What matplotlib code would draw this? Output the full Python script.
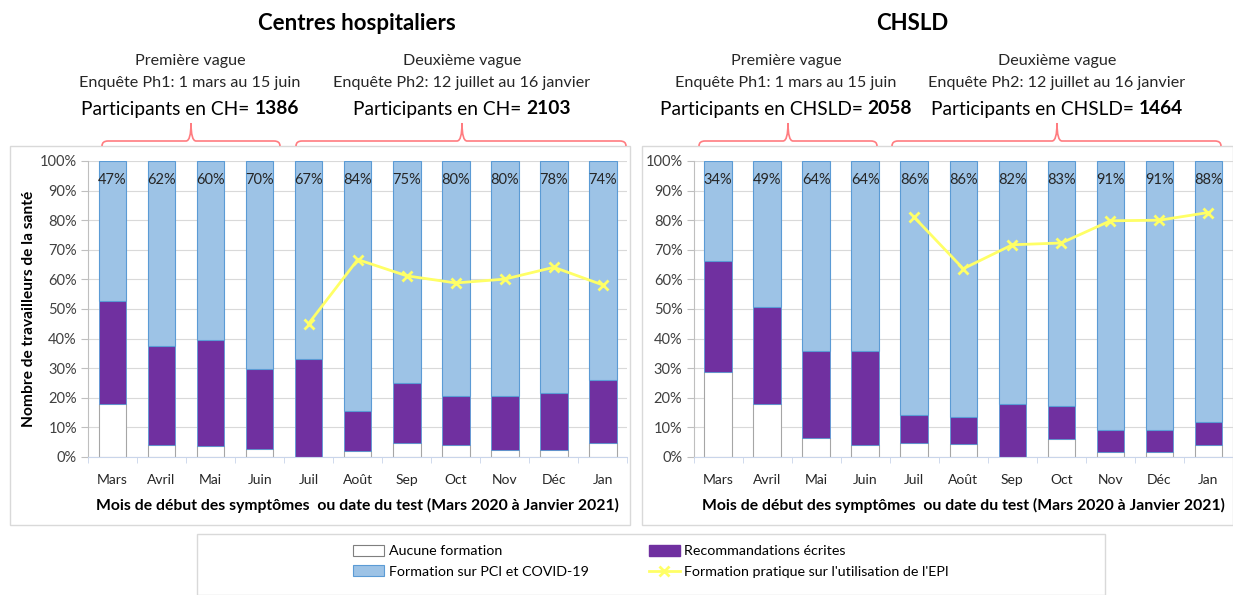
import numpy as np
import matplotlib.pyplot as plt
from matplotlib.path import Path
from matplotlib.patches import PathPatch, Rectangle, Patch
from matplotlib.lines import Line2D
from matplotlib.ticker import FixedLocator

plt.rcParams['font.family'] = ['Lato', 'DejaVu Sans']

# ---- data ----
mois = ['Mars', 'Avril', 'Mai', 'Juin', 'Juil', 'Août', 'Sep', 'Oct', 'Nov', 'Déc', 'Jan']

ch_aucune = [18.0, 4.2, 3.6, 2.6, 0.0, 2.0, 4.6, 4.2, 2.3, 2.5, 4.6]
ch_recomm = [34.8, 33.4, 35.9, 27.2, 33.2, 13.4, 20.3, 16.3, 18.2, 19.2, 21.4]
ch_pratique = [np.nan, np.nan, np.nan, np.nan, 45.1, 66.7, 61.2, 58.8, 60.1, 64.1, 58.1]
ch_labels = [47, 62, 60, 70, 67, 84, 75, 80, 80, 78, 74]

chsld_aucune = [28.6, 17.9, 6.4, 4.2, 4.6, 4.4, 0.0, 6.0, 1.8, 1.8, 3.9]
chsld_recomm = [37.5, 32.9, 29.4, 31.6, 9.6, 9.2, 18.0, 11.2, 7.4, 7.2, 7.9]
chsld_pratique = [np.nan, np.nan, np.nan, np.nan, 81.0, 63.6, 71.7, 72.3, 79.8, 80.0, 82.6]
chsld_labels = [34, 49, 64, 64, 86, 86, 82, 83, 91, 91, 88]

W, H = 1233, 595
fig = plt.figure(figsize=(W / 100, H / 100), dpi=100)
rend = fig.canvas.get_renderer()

BLUE = '#9DC3E6'
BLUE_EDGE = '#5B9BD5'
PURPLE = '#7030A0'
YELLOW = '#FFFF66'
RED = '#FF7C80'
GRAY = '#D9D9D9'


def fx(x):
    return x / W


def fy(y):
    return 1 - y / H


# panel frames
for x0, x1 in [(10, 630), (642, 1233)]:
    fig.patches.append(Rectangle((fx(x0), fy(525)), fx(x1 - x0), (525 - 146) / H,
                                 transform=fig.transFigure, fill=False,
                                 edgecolor=GRAY, lw=1))


def panel(left, aucune, recomm, pratique, labels, ylabel=None):
    ax = fig.add_axes([fx(left), fy(457), fx(539.5), 296 / H])
    x = np.arange(len(mois))
    aucune = np.array(aucune)
    recomm = np.array(recomm)
    base = aucune + recomm
    ax.bar(x, aucune, width=0.56, color='white', edgecolor='#A6A6A6', lw=0.8, zorder=2)
    ax.bar(x, recomm, width=0.56, bottom=aucune, color=PURPLE, edgecolor=BLUE_EDGE, lw=0.6, zorder=2)
    ax.bar(x, 100 - base, width=0.56, bottom=base, color=BLUE, edgecolor=BLUE_EDGE, lw=0.8, zorder=2)
    ax.plot(x, pratique, color=YELLOW, lw=2, marker='x', ms=7, mew=2, zorder=3)
    for i, v in enumerate(labels):
        ax.text(i, 93.6, f'{v}%', ha='center', va='center', fontsize=10.5, color='#262626', zorder=4)

    ax.set_xlim(-0.5, len(mois) - 0.5)
    ax.set_ylim(0, 100)
    ax.set_yticks(range(0, 101, 10))
    ax.set_yticklabels([f'{v}%' for v in range(0, 101, 10)], fontsize=10.5, color='#404040')
    ax.set_xticks(x)
    ax.set_xticklabels(mois, fontsize=10, color='#262626')
    ax.xaxis.set_minor_locator(FixedLocator(np.arange(-0.5, len(mois), 1)))
    ax.tick_params(axis='x', which='major', length=0, pad=12)
    ax.tick_params(axis='x', which='minor', length=4, color='#C9D5EA')
    ax.tick_params(axis='y', length=5, color='#BFBFBF', pad=3)
    ax.grid(axis='y', color=GRAY, lw=0.8, zorder=0)
    ax.set_axisbelow(True)
    for s in ['top', 'right']:
        ax.spines[s].set_visible(False)
    ax.spines['left'].set_color('#BFBFBF')
    ax.spines['bottom'].set_color('#C9D5EA')
    ax.set_xlabel('Mois de début des symptômes  ou date du test (Mars 2020 à Janvier 2021)',
                  fontsize=11.3, fontweight='bold', labelpad=9)
    if ylabel:
        ax.set_ylabel(ylabel, fontsize=11.2, fontweight='bold', labelpad=3)
    return ax


panel(88, ch_aucune, ch_recomm, ch_pratique, ch_labels, 'Nombre de travailleurs de la santé')
panel(693.5, chsld_aucune, chsld_recomm, chsld_pratique, chsld_labels)

# titles
fig.text(fx(357), fy(23), 'Centres hospitaliers', ha='center', va='center', fontsize=16, fontweight='bold')
fig.text(fx(912), fy(23), 'CHSLD', ha='center', va='center', fontsize=16, fontweight='bold')


def mixed(xc, y, normal, bold, size=13.8):
    t1 = fig.text(0, fy(y), normal, ha='left', va='center', fontsize=size)
    t2 = fig.text(0, fy(y), bold, ha='left', va='center', fontsize=size, fontweight='bold')
    w1 = t1.get_window_extent(rend).width
    w2 = t2.get_window_extent(rend).width
    start = xc - (w1 + w2) / 2
    t1.set_x(fx(start))
    t2.set_x(fx(start + w1))


headers = [
    (190, 'Première vague', 'Enquête Ph1: 1 mars au 15 juin', 'Participants en CH= ', '1386'),
    (462, 'Deuxième vague', 'Enquête Ph2: 12 juillet au 16 janvier', 'Participants en CH= ', '2103'),
    (786, 'Première vague', 'Enquête Ph1: 1 mars au 15 juin', 'Participants en CHSLD= ', '2058'),
    (1057, 'Deuxième vague', 'Enquête Ph2: 12 juillet au 16 janvier', 'Participants en CHSLD= ', '1464'),
]
for xc, l1, l2, l3, num in headers:
    fig.text(fx(xc), fy(61), l1, ha='center', va='center', fontsize=11.6, color='#262626')
    fig.text(fx(xc), fy(83), l2, ha='center', va='center', fontsize=11.6, color='#262626')
    mixed(xc, 109, l3, num)


# curly braces
def brace(x0, x1, xm, ybot=146, ymid=141, ypeak=123):
    pts = [(x0, ybot), (x0, ymid), (x0 + 6, ymid), (xm - 5, ymid), (xm, ymid), (xm, ypeak),
           (xm, ymid), (xm + 5, ymid), (x1 - 6, ymid), (x1, ymid), (x1, ybot)]
    codes = [Path.MOVETO, Path.CURVE3, Path.CURVE3, Path.LINETO, Path.CURVE3, Path.CURVE3,
             Path.CURVE3, Path.CURVE3, Path.LINETO, Path.CURVE3, Path.CURVE3]
    verts = [(fx(a), fy(b)) for a, b in pts]
    fig.patches.append(PathPatch(Path(verts, codes), transform=fig.transFigure,
                                 fill=False, edgecolor=RED, lw=1.2))


brace(102, 280, 191)
brace(296, 626, 462)
brace(699, 877, 788)
brace(892, 1221, 1057)

# legend
fig.patches.append(Rectangle((fx(197), 0), fx(1105 - 197), (595 - 534) / H,
                             transform=fig.transFigure, fill=False, edgecolor=GRAY, lw=1))
handles = [
    Patch(facecolor='white', edgecolor='#7F7F7F', lw=0.8),
    Patch(facecolor=BLUE, edgecolor=BLUE_EDGE, lw=0.8),
    Patch(facecolor=PURPLE, edgecolor=PURPLE),
    Line2D([], [], color=YELLOW, lw=2, marker='x', ms=7, mew=2),
]
names = ['Aucune formation', 'Formation sur PCI et COVID-19',
         'Recommandations écrites', "Formation pratique sur l'utilisation de l'EPI"]
fig.legend(handles, names, ncol=2, loc='upper left', bbox_to_anchor=(fx(353), fy(545)),
           frameon=False, fontsize=10.3, borderpad=0, borderaxespad=0,
           handlelength=2.2, handleheight=0.8, handletextpad=0.3,
           columnspacing=4.2, labelspacing=0.55)

fig.savefig('out.png', dpi=100)
